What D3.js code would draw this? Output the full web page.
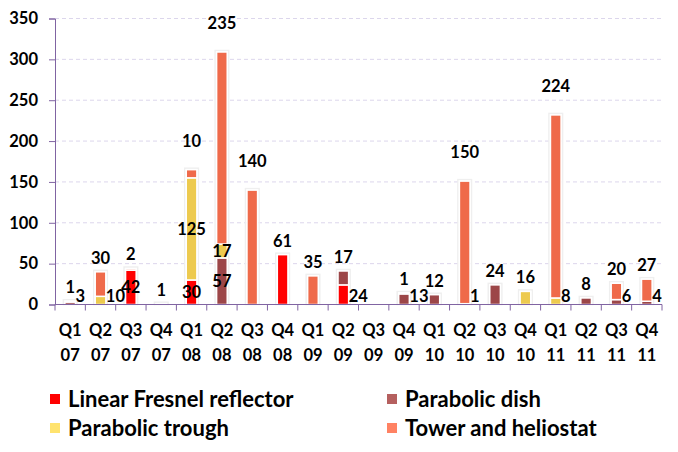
<!DOCTYPE html>
<html><head><meta charset="utf-8">
<script src="https://cdn.jsdelivr.net/npm/d3@7"></script>
<style>body{margin:0;background:#fff}svg{display:block}text{font-family:Lato,"Open Sans",sans-serif;font-weight:700;fill:#000}</style>
</head><body><svg id="c" width="678" height="452"></svg>
<script>
const quarters = ["Q1","Q2","Q3","Q4","Q1","Q2","Q3","Q4","Q1","Q2","Q3","Q4","Q1","Q2","Q3","Q4","Q1","Q2","Q3","Q4"];
const years    = ["07","07","07","07","08","08","08","08","09","09","09","09","10","10","10","10","11","11","11","11"];
const fresnel  = [0,0,42,0,30,0,0,61,0,24,0,0,0,0,0,0,0,0,0,0];
const dish     = [3,0,0,1,0,57,0,0,0,17,0,13,12,1,24,0,0,8,6,4];
const trough   = [0,10,0,0,125,17,0,0,0,0,0,0,0,0,0,16,8,0,0,0];
const tower    = [1,30,2,0,10,235,140,0,35,0,0,1,0,150,0,0,224,0,20,27];
const seriesNames = ["Linear Fresnel reflector","Parabolic dish","Parabolic trough","Tower and heliostat"];
const yTicks = [0,50,100,150,200,250,300,350];

const barColors = ["#FF0000","#9C4648","#EDCA4E","#EF6A4A"];
const legendColors = ["#FF0000","#B5605F","#FFE36E","#FF8263"];
const seriesData = [fresnel, dish, trough, tower];

const svg = d3.select("#c");
const x = d3.scaleBand().domain(d3.range(quarters.length)).range([55, 662]).padding(0);
const y = d3.scaleLinear().domain([0, 350]).range([304.5, 18.5]);
const axisColor = "#8064A2";

// gridlines
svg.append("g").selectAll("line").data(yTicks.filter(d => d > 0)).join("line")
  .attr("x1", 55).attr("x2", 662).attr("y1", d => y(d)).attr("y2", d => y(d))
  .attr("stroke", "#DCD6EC").attr("stroke-width", 1).attr("stroke-dasharray", "4,3");

// y axis
const yAxis = svg.append("g").attr("transform", "translate(55,0)")
  .call(d3.axisLeft(y).tickValues(yTicks).tickSize(6).tickPadding(11));
yAxis.select(".domain").attr("stroke", axisColor);
yAxis.selectAll(".tick line").attr("stroke", axisColor);
yAxis.selectAll("text").attr("font-size", 16.5).style("font-family","Lato").style("font-weight","700").attr("fill","#000");

// stacked data
const stack = quarters.map((q, i) => {
  let base = 0; const segs = [];
  seriesData.forEach((arr, s) => {
    const v = arr[i];
    if (v > 0) { segs.push({s, v, y0: base, y1: base + v}); base += v; }
  });
  return {i, segs, total: base};
});

const bw = x.bandwidth() * 0.35;
const bx = i => x(i) + (x.bandwidth() - bw) / 2;

// shadows
svg.append("g").selectAll("rect").data(stack.filter(d => d.total > 0)).join("rect")
  .attr("x", d => bx(d.i) - 1.5).attr("width", bw + 3)
  .attr("y", d => y(d.total) - 1.5).attr("height", d => y(0) - y(d.total) + 1.5)
  .attr("fill", "none").attr("stroke", "#EFEFEF").attr("stroke-width", 1.5);

// bars
const gBars = svg.append("g");
stack.forEach(st => {
  gBars.selectAll(null).data(st.segs).join("rect")
    .attr("x", bx(st.i)).attr("width", bw)
    .attr("y", d => y(d.y1)).attr("height", d => Math.max(0, y(d.y0) - y(d.y1)))
    .attr("fill", d => barColors[d.s]).attr("stroke", "#fff").attr("stroke-width", 1.5);
});

// x axis
const xAxis = svg.append("g").attr("transform", `translate(0,${y(0)})`);
xAxis.append("line").attr("x1", 55).attr("x2", 662).attr("stroke", axisColor);
xAxis.selectAll("line.t").data(d3.range(quarters.length + 1)).join("line").attr("class","t")
  .attr("x1", i => 55 + i * x.bandwidth()).attr("x2", i => 55 + i * x.bandwidth())
  .attr("y1", 0).attr("y2", 6).attr("stroke", axisColor);
const xl = svg.append("g").selectAll("g").data(d3.range(quarters.length)).join("g")
  .attr("transform", i => `translate(${x(i) + x.bandwidth()/2},0)`);
xl.append("text").attr("y", 336).attr("text-anchor","middle").attr("font-size",16.5).text(i => quarters[i]);
xl.append("text").attr("y", 361).attr("text-anchor","middle").attr("font-size",16.5).text(i => years[i]);

// data labels
const gLab = svg.append("g");
stack.forEach(st => {
  const n = st.segs.length;
  const cx = bx(st.i) + bw / 2;
  st.segs.forEach((d, k) => {
    let tx, ty, anchor = "middle";
    if (k === n - 1) {
      const barPx = y(0) - y(st.total);
      const off = barPx > 100 ? 29 : 14;
      tx = cx; ty = y(st.total) - off;
    } else {
      const segPx = y(d.y0) - y(d.y1);
      if (segPx >= 22 || k > 0) { tx = cx; ty = (y(d.y0) + y(d.y1)) / 2; }
      else { tx = bx(st.i) + bw; ty = y(0) - 8; anchor = "start"; }
    }
    gLab.append("text").attr("x", tx).attr("y", ty).attr("dy", "0.36em")
      .attr("text-anchor", anchor).attr("font-size", 16.5).text(d.v);
  });
});

// legend
const legendPos = [[50, 399], [387, 399], [50, 428], [387, 428]];
const lg = svg.append("g").selectAll("g").data(seriesNames).join("g")
  .attr("transform", (d, i) => `translate(${legendPos[i][0]},${legendPos[i][1]})`);
lg.append("rect").attr("x", 0).attr("y", -5).attr("width", 10).attr("height", 10)
  .attr("fill", (d, i) => legendColors[i]);
lg.append("text").attr("x", 18).attr("dy", "0.36em").attr("font-size", 22).text(d => d);
</script></body></html>
